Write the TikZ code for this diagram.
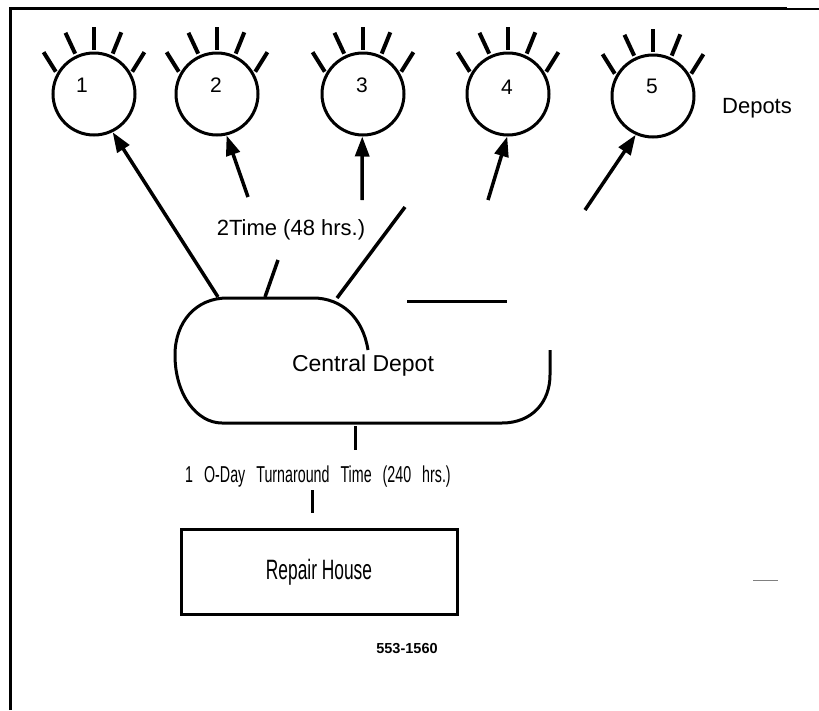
\documentclass[tikz,border=0pt]{standalone}
\usepackage{fontspec}
\setmainfont{Liberation Sans}
\newfontfamily\narrowfont[FakeStretch=0.62]{Liberation Sans}
\usetikzlibrary{arrows.meta, calc}

\begin{document}
\begin{tikzpicture}[
        x=1pt, y=-1pt,
        every node/.style={inner sep=0pt},
        lab/.style={font=\fontsize{22}{26}\selectfont},
        num/.style={font=\fontsize{21}{25}\selectfont},
        depot/.style={circle, draw, line width=3pt, minimum size=82pt},
        ray/.style={line width=4pt},
        arr/.style={line width=3.5pt, -{Triangle[length=20pt, width=14pt]}},
        seg/.style={line width=3.5pt},
        outline/.style={line width=3pt}
    ]
        % Sfondo
        \fill[white] (0,0) rectangle (819,710);
        \useasboundingbox (0,0) rectangle (819,710);

        % -------- Cornice --------
        \draw[line width=3pt] (10,710) -- (10,8) -- (787,8);
        \draw[line width=2pt] (787,9) -- (819,9);

        % -------- Depositi (cerchi con raggi) --------
        \foreach \i/\x/\y/\nx/\ny in {1/94/94/82/85, 2/217/94/216/85, 3/363/94/362/85, 4/508/94/507/87, 5/653/96/652/86}{
            \node[depot] (d\i) at (\x, \y) {};
            \node[num] (n\i) at (\nx, \ny) {\i};
            % raggi: punto di partenza / direzione
            \foreach \a/\b in {151/122, 115/115, 90/90, 65/68, 29/58}{
                \draw[ray] (d\i.\a) ++(\b:2pt) -- ++(\b:23pt);
            }
        }
        \node[lab] (dep) at (757,108) {Depots};

        % -------- Frecce verso i depositi --------
        \coordinate (a1) at (218,297);
        \coordinate (a2) at (248,197);
        \coordinate (a3) at (362,200);
        \coordinate (a4) at (488,200);
        \coordinate (a5) at (585,210);
        \draw[arr] (a1) -- (d1.-64);
        \draw[arr] (a2) -- (d2.-77);
        \draw[arr] (a3) -- (d3.-91);
        \draw[arr] (a4) -- (d4.-91);
        \draw[arr] (a5) -- (d5.-114);

        \node[lab] (tt) at (291,230) {2Time (48 hrs.)};
        \coordinate (b1) at (278,260);
        \coordinate (b2) at (265,297);
        \coordinate (c1) at (405,207);
        \coordinate (c2) at (337,298);
        \draw[seg] (b1) -- (b2);
        \draw[seg] (c1) -- (c2);

        % -------- Deposito centrale --------
        \draw[outline] (368,350) .. controls (363,318) and (342,298) .. (313,298)
            -- (227,298) .. controls (196,298) and (175,322) .. (175,355)
            .. controls (175,395) and (197,423) .. (222,423)
            -- (502,423) .. controls (532,423) and (550,402) .. (550,375) -- (550,350);
        \draw[outline] (407,301) -- (507,301);
        \node[font=\fontsize{23}{27}\selectfont] (cd) at (363,366) {Central Depot};

        % -------- Riparazione --------
        \coordinate (e1) at (355,426);
        \coordinate (e2) at (355,450);
        \draw[outline] (e1) -- (e2);
        \node[font=\narrowfont\fontsize{23}{27}\selectfont] (ta) at (318,477)
            {\spaceskip=11pt\relax 1 O-Day Turnaround Time (240 hrs.)};
        \coordinate (f1) at (312,490);
        \coordinate (f2) at (312,513);
        \draw[outline] (f1) -- (f2);

        \node[draw, line width=3pt, minimum width=276pt, minimum height=85pt,
              font=\narrowfont\fontsize{28}{32}\selectfont] (rh) at (319,572) {Repair House};
        \node[font=\bfseries\fontsize{14.5}{17}\selectfont] (fig) at (407,649) {553-1560};

        % segno di scansione
        \draw[gray, line width=1pt] (753,580) -- (778,580);

    \end{tikzpicture}
\end{document}
